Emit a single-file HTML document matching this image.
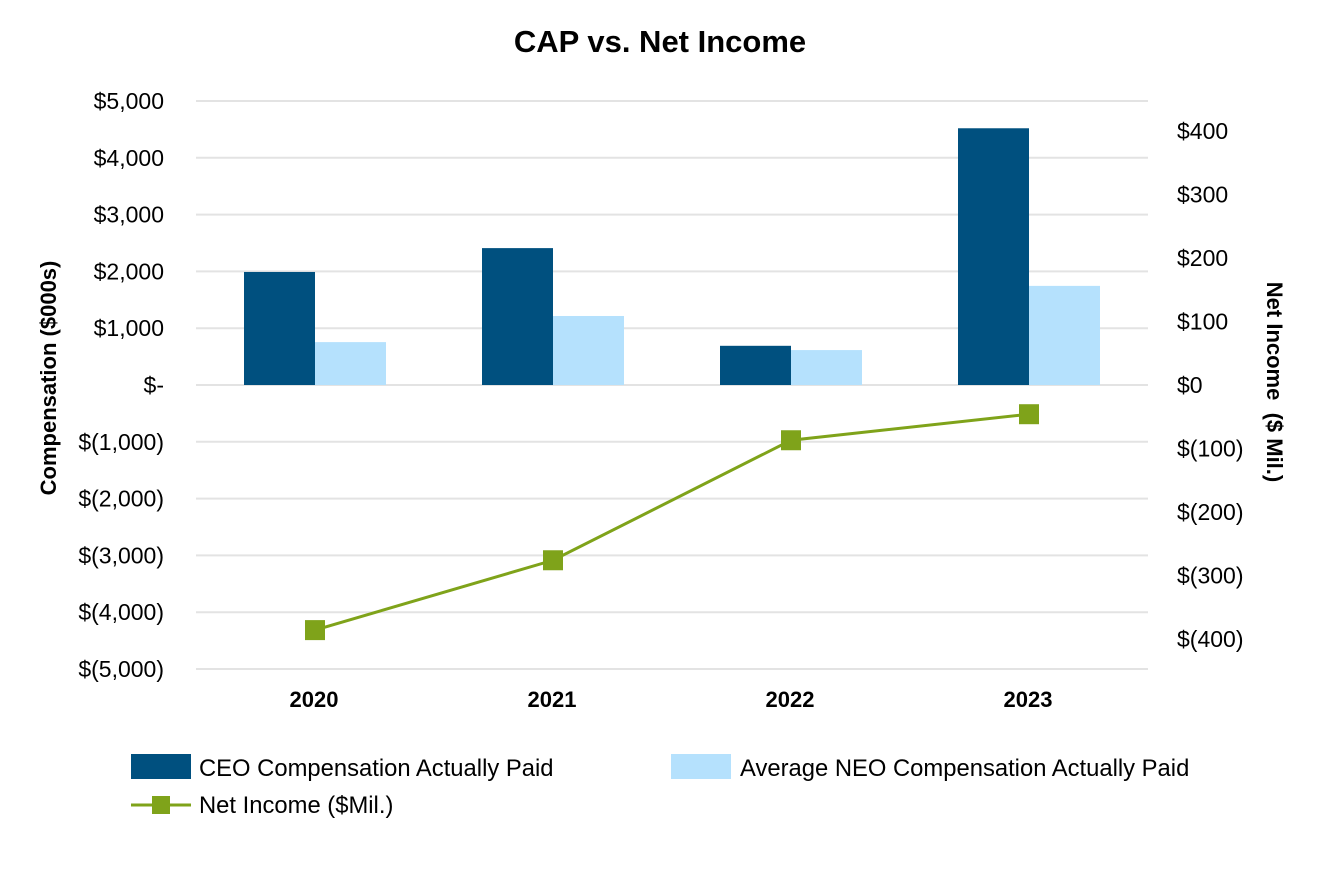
<!DOCTYPE html>
<html><head><meta charset="utf-8"><style>
body{margin:0;background:#fff;font-family:"Liberation Sans",Arial,sans-serif}
svg text{font-family:"Liberation Sans",Arial,sans-serif}
</style></head><body>
<svg width="1324" height="864" id="c">
<text x="660" y="52" text-anchor="middle" font-size="31" font-weight="bold">CAP vs. Net Income</text>
<g id="grid"></g><g id="bars"></g><g id="line"></g><g id="axes"></g>
<text transform="translate(56,378) rotate(-90)" text-anchor="middle" font-size="22" font-weight="bold">Compensation ($000s)</text>
<text transform="translate(1267,382) rotate(90)" text-anchor="middle" font-size="22" font-weight="bold">Net Income&#160; ($ Mil.)</text>
<g font-size="23.8">
<rect x="131" y="754" width="60" height="25" fill="#00507f"/>
<text x="199" y="776">CEO Compensation Actually Paid</text>
<rect x="671" y="754" width="60" height="25" fill="#b5e1fd"/>
<text x="740" y="776">Average NEO Compensation Actually Paid</text>
<line x1="131" y1="805" x2="191" y2="805" stroke="#7fa31a" stroke-width="3"/>
<rect x="152" y="796" width="18" height="18" fill="#7fa31a"/>
<text x="199" y="813">Net Income ($Mil.)</text>
</g>
</svg>
<script>
const categories=["2020","2021","2022","2023"];
const ceoValues=[1990,2410,690,4520];
const neoValues=[755,1215,615,1745];
const netIncome=[-386,-276,-87,-46];
const leftTicks=[5000,4000,3000,2000,1000,0,-1000,-2000,-3000,-4000,-5000];
const rightTicks=[400,300,200,100,0,-100,-200,-300,-400];
const ns="http://www.w3.org/2000/svg";
const X0=196,X1=1148,bw=(X1-X0)/4;
const yL=v=>385-v*0.0568;
const yR=v=>385-v*0.635;
const xC=i=>X0+bw*(i+0.5);
function mk(t,a,p){const e=document.createElementNS(ns,t);for(const k in a)e.setAttribute(k,a[k]);document.getElementById(p).appendChild(e);return e;}
function fmtL(v){if(v===0)return"$-";const s=Math.abs(v).toLocaleString("en-US");return v<0?"$("+s+")":"$"+s;}
function fmtR(v){const s=Math.abs(v);return v<0?"$("+s+")":"$"+s;}
leftTicks.forEach(v=>{
 const l=mk("line",{x1:X0,x2:X1,y1:yL(v),y2:yL(v),stroke:"#e3e3e3","stroke-width":2},"grid");
 
 
 const t=mk("text",{x:164,y:yL(v)+8,"text-anchor":"end","font-size":23},"axes");t.textContent=fmtL(v);
 
 
});
rightTicks.forEach(v=>{
 const t=mk("text",{x:1177,y:yR(v)+8,"font-size":23},"axes");t.textContent=fmtR(v);
 
 
});
categories.forEach((c,i)=>{
 const t=mk("text",{x:xC(i)-1,y:707,"text-anchor":"middle","font-size":22,"font-weight":"bold"},"axes");t.textContent=c;
 
 
 const a=mk("rect",{x:xC(i)-71,y:Math.min(yL(ceoValues[i]),385),width:71,height:Math.abs(yL(ceoValues[i])-385),fill:"#00507f"},"bars");
 
 
 const b=mk("rect",{x:xC(i),y:Math.min(yL(neoValues[i]),385),width:71,height:Math.abs(yL(neoValues[i])-385),fill:"#b5e1fd"},"bars");
 
 
});
const pl=mk("polyline",{points:netIncome.map((v,i)=>xC(i)+","+yR(v)).join(" "),fill:"none",stroke:"#7fa31a","stroke-width":3},"line");


netIncome.forEach((v,i)=>{
 const m=mk("rect",{x:xC(i)-10,y:yR(v)-10,width:20,height:20,fill:"#7fa31a"},"line");
 
 
});
</script>
</body></html>
